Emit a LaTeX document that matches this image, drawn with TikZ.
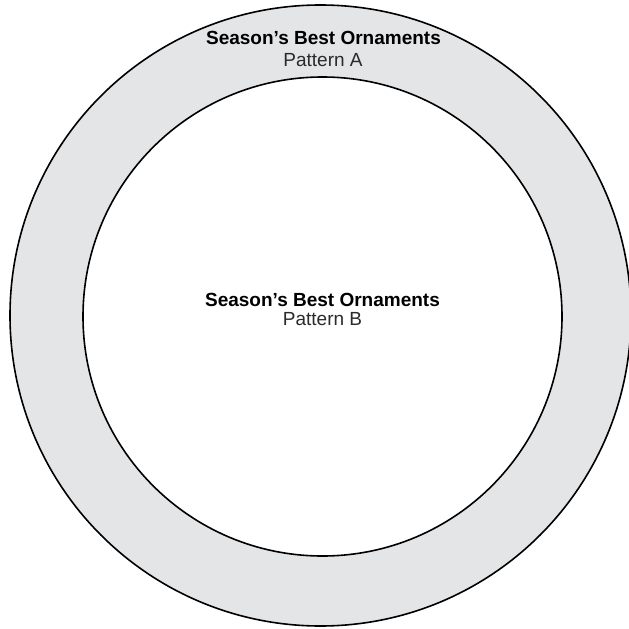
\documentclass[tikz,border=0pt]{standalone}
\usepackage{fontspec}
\setmainfont{Liberation Sans}
\definecolor{ringgray}{HTML}{E4E5E7}
\definecolor{textgray}{HTML}{2A2A2A}
\begin{document}
\begin{tikzpicture}[x=1pt,y=1pt,
  ring/.style={draw=black,line width=1.6pt},
  titletext/.style={align=center,font=\fontsize{19}{22}\selectfont\bfseries,text=black,inner sep=0pt},
  subtext/.style={align=center,font=\fontsize{19}{22}\selectfont,text=textgray,inner sep=0pt}]
\useasboundingbox (0,0) rectangle (629,-629);
\fill[white] (0,0) rectangle (629,-629);
\node[ring,fill=ringgray,circle,minimum size=621pt,inner sep=0pt] (outer) at (320.5,-315.5) {};
\node[ring,fill=white,circle,minimum size=479pt,inner sep=0pt] (inner) at (322.5,-316.5) {};
\node[titletext,anchor=base] (ta) at (323.5,-44) {Season’s Best Ornaments};
\node[subtext,anchor=base] (pa) at (323,-66.5) {Pattern A};
\node[titletext,anchor=base] (tb) at (322.5,-306) {Season’s Best Ornaments};
\node[subtext,anchor=base] (pb) at (322.5,-325) {Pattern B};
\end{tikzpicture}
\end{document}
